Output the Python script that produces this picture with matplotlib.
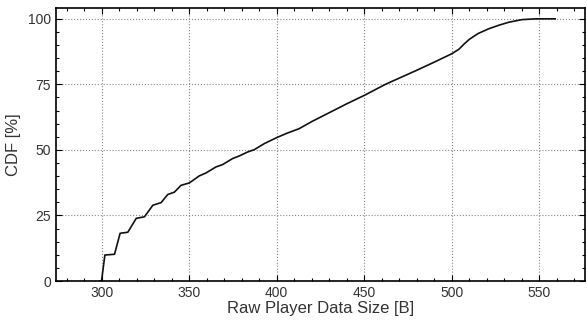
import matplotlib.pyplot as plt
from matplotlib.ticker import MultipleLocator

# CDF of raw player data size
size_bytes = [299, 300, 301.9, 307.4, 310.6, 315, 319.8, 324.5, 329.3, 334, 337.8,
              341.6, 345.4, 350.1, 355.8, 359.6, 365.3, 369.1, 374.8, 378.6, 383.4,
              387.2, 392.9, 400, 406, 412.8, 420, 430, 440, 450, 462, 470, 480, 490,
              500, 504, 507, 510, 515, 521, 527, 532.5, 540, 548, 559]
cdf_pct = [0, 0, 9.9, 10.2, 18.2, 18.6, 23.9, 24.5, 28.9, 29.9, 33.0,
           33.9, 36.5, 37.4, 40.1, 41.2, 43.5, 44.4, 46.7, 47.7, 49.2,
           50.1, 52.4, 54.7, 56.4, 58.1, 60.8, 64.2, 67.6, 70.8, 75.0, 77.4, 80.4, 83.5,
           86.7, 88.4, 90.4, 92.2, 94.4, 96.2, 97.6, 98.7, 99.7, 100, 100]

xticks = [300, 350, 400, 450, 500, 550]
yticks = [0, 25, 50, 75, 100]

plt.rcParams['font.family'] = ['Liberation Sans', 'DejaVu Sans']

fig = plt.figure(figsize=(5.87, 3.21), dpi=100)
ax = fig.add_axes([0.0954, 0.1246, 0.9012, 0.8494])

ax.plot(size_bytes, cdf_pct, color='#111111', lw=1.2)

ax.set_xlim(274, 576)
ax.set_ylim(0, 104)
ax.set_xticks(xticks)
ax.set_yticks(yticks)
ax.xaxis.set_minor_locator(MultipleLocator(10))
ax.yaxis.set_minor_locator(MultipleLocator(5))
ax.tick_params(which='both', direction='in', top=True, right=True, labelsize=10,
               labelcolor='#333333')
ax.tick_params(which='major', length=4, width=0.8)
ax.tick_params(which='minor', length=2.5, width=0.8)
ax.grid(True, which='major', linestyle=':', color='#888888', lw=0.8)
for s in ax.spines.values():
    s.set_linewidth(1.2)

ax.set_xlabel('Raw Player Data Size [B]', fontsize=12, color='#333333', labelpad=1)
ax.set_ylabel('CDF [%]', fontsize=12, color='#333333', labelpad=5)

fig.savefig('out.png', dpi=100)
